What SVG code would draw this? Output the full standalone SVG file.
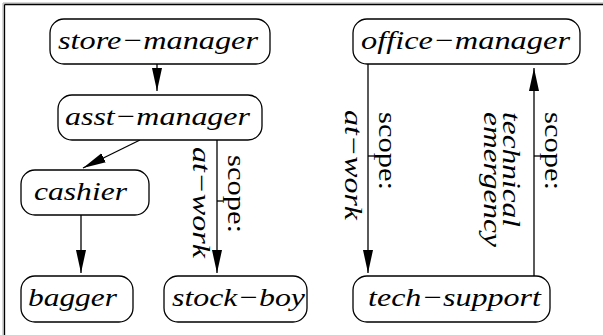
<svg xmlns="http://www.w3.org/2000/svg" width="603" height="335" viewBox="0 0 603 335">
<style>
.node rect{fill:#fff;stroke:#000;stroke-width:1.3}
.node text{font-style:italic;font-size:26px;fill:#000}
.edge line{stroke:#000;stroke-width:1.3}
.lbl{font-size:26px;fill:#000}
.it{font-style:italic}
</style>
<defs>
<marker id="ah" markerUnits="userSpaceOnUse" markerWidth="24" markerHeight="11" refX="23" refY="5" orient="auto">
<path d="M0,0 L23,5 L0,10 z" fill="#000"/>
</marker>
</defs>
<rect x="0" y="0" width="603" height="335" fill="#fff"/>
<g id="frame">
<line x1="3" y1="3" x2="603" y2="3" stroke="#aaa" stroke-width="1"/>
<line x1="3" y1="3" x2="3" y2="335" stroke="#aaa" stroke-width="1"/>
<line x1="4.5" y1="4.5" x2="603" y2="4.5" stroke="#000" stroke-width="1.3"/>
<line x1="4.5" y1="4.5" x2="4.5" y2="335" stroke="#000" stroke-width="1.3"/>
</g>
<g id="connectors" class="edge" font-family="Liberation Serif, DejaVu Serif, serif">
<line x1="157" y1="64" x2="157" y2="91" marker-end="url(#ah)"/>
<line x1="140" y1="140" x2="83" y2="168" marker-end="url(#ah)"/>
<line x1="81" y1="215" x2="81" y2="273" marker-end="url(#ah)"/>
<line x1="217" y1="139" x2="217" y2="273" marker-end="url(#ah)"/>
<line x1="217" y1="201" x2="223.5" y2="201"/>
<line x1="368" y1="64" x2="368" y2="273" marker-end="url(#ah)"/>
<line x1="368" y1="156" x2="374.5" y2="156"/>
<line x1="534" y1="276" x2="534" y2="68" marker-end="url(#ah)"/>
<line x1="534" y1="156" x2="540.5" y2="156"/>
<text class="lbl" transform="translate(228,155) rotate(90)" textLength="78" lengthAdjust="spacingAndGlyphs">scope:</text>
<text class="lbl it" transform="translate(193,147) rotate(90)" textLength="111" lengthAdjust="spacingAndGlyphs">at−work</text>
<text class="lbl" transform="translate(379,112) rotate(90)" textLength="78" lengthAdjust="spacingAndGlyphs">scope:</text>
<text class="lbl it" transform="translate(345,110) rotate(90)" textLength="110" lengthAdjust="spacingAndGlyphs">at−work</text>
<text class="lbl" transform="translate(545,112) rotate(90)" textLength="78" lengthAdjust="spacingAndGlyphs">scope:</text>
<text class="lbl it" transform="translate(503,112) rotate(90)" textLength="115" lengthAdjust="spacingAndGlyphs">technical</text>
<text class="lbl it" transform="translate(484,112) rotate(90)" textLength="135" lengthAdjust="spacingAndGlyphs">emergency</text>
</g>
<g font-family="Liberation Serif, DejaVu Serif, serif">
<g id="store-manager" class="node"><rect x="50" y="19" width="220" height="45" rx="14"/><text x="58" y="49" textLength="200" lengthAdjust="spacingAndGlyphs">store−manager</text></g>
<g id="asst-manager" class="node"><rect x="58" y="95" width="204" height="45" rx="14"/><text x="65" y="125" textLength="185" lengthAdjust="spacingAndGlyphs">asst−manager</text></g>
<g id="cashier" class="node"><rect x="21" y="170" width="128" height="45" rx="14"/><text x="34" y="200" textLength="93" lengthAdjust="spacingAndGlyphs">cashier</text></g>
<g id="bagger" class="node"><rect x="21" y="276" width="112" height="46" rx="14"/><text x="28" y="306" textLength="89" lengthAdjust="spacingAndGlyphs">bagger</text></g>
<g id="stock-boy" class="node"><rect x="164" y="276" width="143" height="46" rx="14"/><text x="172" y="306" textLength="133" lengthAdjust="spacingAndGlyphs">stock−boy</text></g>
<g id="office-manager" class="node"><rect x="353" y="19" width="227" height="45" rx="14"/><text x="361" y="49" textLength="209" lengthAdjust="spacingAndGlyphs">office−manager</text></g>
<g id="tech-support" class="node"><rect x="353" y="276" width="197" height="46" rx="14"/><text x="368" y="306" textLength="173" lengthAdjust="spacingAndGlyphs">tech−support</text></g>
</g>
</svg>
